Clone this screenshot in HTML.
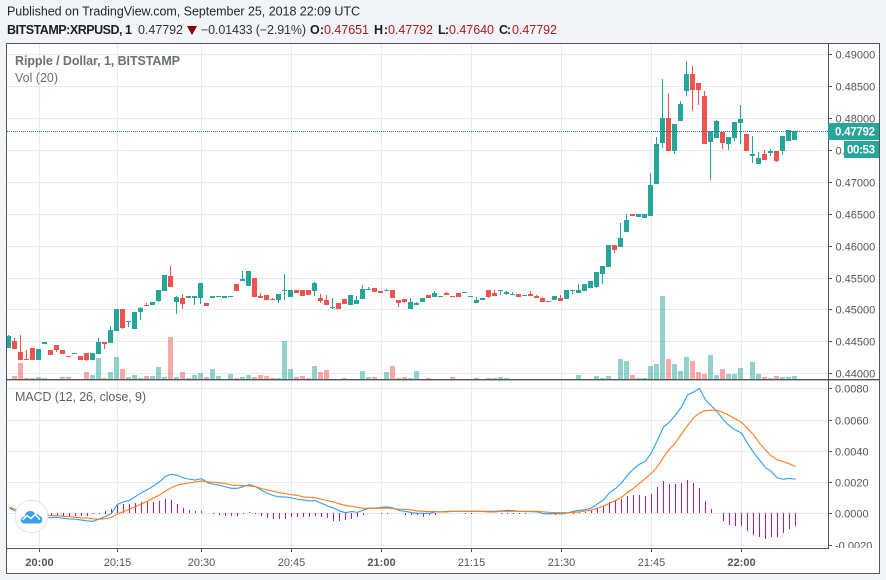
<!DOCTYPE html>
<html lang="en">
<head>
<meta charset="utf-8">
<title>XRPUSD chart</title>
<style>
html,body{margin:0;padding:0;background:#f1f4f8;}
svg{display:block;font-family:"Liberation Sans",Arial,sans-serif;}
</style>
</head>
<body>
<svg id="chart" xmlns="http://www.w3.org/2000/svg" width="886" height="580" viewBox="0 0 886 580">
  <defs>
    <clipPath id="main-clip"><rect x="7" y="44" width="821" height="335"/></clipPath>
    <clipPath id="macd-clip"><rect x="7" y="381" width="821" height="167"/></clipPath>
    <clipPath id="macd-axis-clip"><rect x="829" y="381" width="50" height="167"/></clipPath>
  </defs>
  <rect x="0" y="0" width="886" height="580" fill="#f1f4f8"/>
  <rect x="6" y="43" width="873" height="530" fill="#ffffff"/>

  <text x="7" y="15.5" font-size="12.5" fill="#262626" textLength="353">Published on TradingView.com, September 25, 2018 22:09 UTC</text>
  <g font-size="12.5">
    <text x="7" y="34" font-weight="bold" fill="#1e1e1e" textLength="125">BITSTAMP:XRPUSD, 1</text>
    <text x="138" y="34" fill="#333" textLength="45">0.47792</text>
    <polygon points="187,26 197,26 192,35" fill="#8b0000"/>
    <text x="201" y="34" fill="#333" textLength="105">−0.01433 (−2.91%)</text>
    <text x="310" y="34" font-weight="bold" fill="#1e1e1e" textLength="14">O:</text>
    <text x="324" y="34" fill="#a81c1c" textLength="45">0.47651</text>
    <text x="374" y="34" font-weight="bold" fill="#1e1e1e" textLength="14">H:</text>
    <text x="388" y="34" fill="#a81c1c" textLength="45">0.47792</text>
    <text x="438" y="34" font-weight="bold" fill="#1e1e1e" textLength="11">L:</text>
    <text x="449" y="34" fill="#a81c1c" textLength="45">0.47640</text>
    <text x="499" y="34" font-weight="bold" fill="#1e1e1e" textLength="12">C:</text>
    <text x="512" y="34" fill="#a81c1c" textLength="45">0.47792</text>
  </g>

  <g id="grid"></g>
  <g id="volume" clip-path="url(#main-clip)"></g>
  <g id="candles" clip-path="url(#main-clip)"></g>
  <g id="hist" clip-path="url(#macd-clip)"></g>
  <g id="macd-lines" clip-path="url(#macd-clip)"></g>
  <g id="price-axis"></g>
  <g id="macd-axis"></g>
  <g id="time-axis"></g>

  <line id="last-line" x1="7" x2="828" y1="131.5" y2="131.5" stroke="#1b7f75" stroke-width="1" stroke-dasharray="1 1"/>

  <text x="15" y="65" font-size="12.5" font-weight="bold" fill="#6b6e76" textLength="165">Ripple / Dollar, 1, BITSTAMP</text>
  <text x="15" y="82" font-size="12.5" fill="#6b6e76" textLength="43">Vol (20)</text>
  <text x="15" y="401" font-size="12.5" fill="#5d6068" textLength="131">MACD (12, 26, close, 9)</text>

  <g fill="#555555">
    <rect x="6" y="43" width="874" height="1"/>
    <rect x="6" y="43" width="1" height="530"/>
    <rect x="879" y="43" width="1" height="531"/>
    <rect x="6" y="573" width="874" height="1"/>
    <rect x="6" y="379" width="874" height="1.4"/>
    <rect x="6" y="548" width="823" height="1"/>
    <rect x="828" y="43" width="1" height="506"/>
  </g>

  <g>
    <rect x="828" y="123" width="51" height="17" fill="#26a69a"/>
    <text x="835" y="135.5" font-size="11.5" font-weight="bold" fill="#ffffff" textLength="40">0.47792</text>
    <rect x="844" y="141" width="35" height="17" fill="#26a69a"/>
    <text x="847" y="153.5" font-size="11.5" font-weight="bold" fill="#ffffff" textLength="28">00:53</text>
  </g>

  <g>
    <circle cx="31.5" cy="516.5" r="16.3" fill="#ffffff" stroke="#e2e4e6" stroke-width="1"/>
    <path d="M24 523.5 Q20.5 523 21 519.5 Q21.5 516.5 24.5 516.5 Q25.5 511 30.5 511 Q34 511 35.5 514.5 Q37.5 513.5 39 515.5 Q42.5 516.5 42.3 520 Q42 523.5 38.5 523.5 Z" fill="#3a9ff0"/>
    <polyline points="22.5,520 27,515.5 31,518.5 35,514.5 40,519.5" fill="none" stroke="#ffffff" stroke-width="1.5"/>
  </g>
</svg>

<script>
// Price series (USD)
const opens = [.44397,.44507,.44334,.44225,.44397,.44209,.44460,.44366,.44444,.44366,
.44272,.44303,.44272,.44319,.44209,.44303,.44491,.44475,.44663,.45008,
.44804,.44695,.44961,.45071,.45071,.45134,.45290,.45525,.45118,.45181,
.45181,.45181,.45181,.45102,.45181,.45196,.45181,.45196,.45400,.45447,
.45369,.45494,.45212,.45228,.45165,.45149,.45290,.45196,.45306,.45306,
.45306,.45290,.45181,.45149,.45024,.45102,.45165,.45071,.45087,.45165,
.45306,.45337,.45290,.45290,.45306,.45149,.45165,.45008,.45071,.45118,
.45228,.45196,.45196,.45259,.45212,.45259,.45259,.45196,.45102,.45149,
.45306,.45259,.45290,.45243,.45228,.45243,.45212,.45243,.45212,.45181,
.45134,.45149,.45181,.45165,.45290,.45259,.45290,.45337,.45353,.45557,
.45667,.46011,.45980,.46214,.46496,.46449,.46434,.46465,.46967,.47609,
.48001,.47484,.47954,.48424,.48691,.48550,.48346,.47625,.47688,.47782,
.47594,.47688,.47923,.47750,.47406,.47280,.47437,.47453,.47484,.47484,
.47641,.47651];
const closes = [.44585,.44381,.44209,.44209,.44209,.44381,.44491,.44287,.44366,.44303,
.44256,.44319,.44209,.44209,.44319,.44491,.44460,.44679,.45008,.44710,
.44820,.44961,.45024,.45055,.45118,.45306,.45541,.45353,.45196,.45087,
.45212,.45212,.45416,.45055,.45212,.45212,.45212,.45212,.45290,.45478,
.45604,.45196,.45181,.45149,.45149,.45243,.45306,.45306,.45259,.45212,
.45228,.45416,.45134,.45071,.45040,.45008,.45087,.45228,.45149,.45322,
.45322,.45275,.45259,.45306,.45181,.45102,.45118,.45118,.45102,.45181,
.45181,.45259,.45212,.45228,.45196,.45196,.45275,.45212,.45149,.45181,
.45196,.45212,.45306,.45275,.45243,.45196,.45228,.45212,.45181,.45118,
.45118,.45212,.45134,.45306,.45306,.45306,.45400,.45447,.45588,.45682,
.46011,.45933,.46121,.46402,.46465,.46496,.46496,.46951,.47594,.48001,
.47484,.47907,.48221,.48691,.48440,.48440,.47594,.47797,.47954,.47609,
.47703,.47938,.47986,.47484,.47437,.47374,.47343,.47484,.47327,.47719,
.47813,.47792];
const highs = [.44601,.44554,.44601,.44366,.44397,.44381,.44491,.44366,.44444,.44366,
.44272,.44319,.44272,.44319,.44319,.44554,.44491,.44742,.45008,.45008,
.44820,.44961,.45040,.45102,.45118,.45306,.45541,.45682,.45212,.45243,
.45212,.45212,.45416,.45102,.45212,.45212,.45212,.45212,.45400,.45604,
.45604,.45494,.45259,.45228,.45181,.45243,.45557,.45306,.45306,.45306,
.45306,.45431,.45243,.45228,.45181,.45102,.45165,.45228,.45212,.45384,
.45353,.45337,.45290,.45322,.45306,.45149,.45165,.45181,.45118,.45181,
.45228,.45290,.45212,.45275,.45212,.45259,.45275,.45212,.45196,.45181,
.45306,.45306,.45306,.45290,.45275,.45243,.45228,.45290,.45228,.45196,
.45134,.45212,.45228,.45306,.45306,.45400,.45400,.45447,.45588,.45682,
.46011,.46011,.46356,.46496,.46496,.46496,.46496,.47139,.47703,.48612,
.48393,.47907,.48268,.48895,.48816,.48550,.48424,.47797,.47970,.47782,
.47703,.47938,.48205,.47750,.47719,.47468,.47500,.47515,.47484,.47719,
.47813,.47792];
const lows = [.44397,.44381,.44209,.44209,.44209,.44209,.44460,.44287,.44334,.44303,
.44256,.44303,.44209,.44193,.44209,.44303,.44381,.44475,.44663,.44695,
.44726,.44695,.44836,.45055,.45071,.45118,.45290,.45353,.44930,.45008,
.45181,.45071,.45087,.45055,.45181,.45196,.45181,.45196,.45290,.45447,
.45369,.45196,.45181,.45149,.45149,.45102,.45149,.45196,.45259,.45212,
.45228,.45212,.45102,.45071,.45008,.45008,.45087,.45071,.45087,.45165,
.45306,.45275,.45259,.45290,.45181,.45040,.45102,.45008,.45071,.45118,
.45181,.45196,.45196,.45228,.45196,.45196,.45259,.45196,.45102,.45149,
.45181,.45212,.45228,.45228,.45228,.45196,.45212,.45212,.45181,.45118,
.45118,.45149,.45134,.45165,.45243,.45259,.45290,.45337,.45337,.45400,
.45667,.45886,.45980,.46214,.46465,.46449,.46434,.46465,.46967,.47531,
.47484,.47437,.47954,.48346,.48111,.48205,.47594,.47029,.47688,.47515,
.47500,.47641,.47594,.47484,.47296,.47280,.47343,.47406,.47312,.47421,
.47641,.47651];
// Volume (arbitrary units, 3 units to a pixel)
const volumes = [0,10,49,4,4,7,4,0,0,7,
7,0,0,22,13,64,4,22,67,31,
7,13,4,10,10,37,7,127,7,22,
4,13,19,7,31,10,0,16,4,7,
13,7,13,10,4,4,115,31,7,10,
4,40,22,28,0,0,4,0,0,25,
7,7,0,22,40,4,7,4,25,0,
4,0,0,0,7,0,0,0,4,0,
4,4,7,4,0,0,0,0,0,0,
0,0,0,0,0,13,0,0,10,4,
10,0,61,55,13,4,4,40,46,250,
61,46,25,67,55,22,16,73,13,31,
16,16,34,0,52,16,7,4,10,7,
7,10];
// MACD series
const macdValues = [32e-5,15e-5,0,-11e-5,-17e-5,-21e-5,-26e-5,-28e-5,-26e-5,-32e-5,
-36e-5,-38e-5,-43e-5,-49e-5,-51e-5,-36e-5,-21e-5,0,58e-5,73e-5,
83e-5,107e-5,132e-5,151e-5,175e-5,201e-5,237e-5,250e-5,243e-5,226e-5,
218e-5,213e-5,222e-5,196e-5,186e-5,179e-5,169e-5,160e-5,160e-5,171e-5,
183e-5,171e-5,147e-5,128e-5,113e-5,105e-5,105e-5,98e-5,90e-5,85e-5,
79e-5,81e-5,64e-5,47e-5,34e-5,15e-5,4e-5,11e-5,6e-5,21e-5,
34e-5,34e-5,38e-5,41e-5,34e-5,17e-5,13e-5,4e-5,0,0,
0,9e-5,9e-5,13e-5,13e-5,13e-5,13e-5,13e-5,13e-5,13e-5,
13e-5,13e-5,15e-5,19e-5,17e-5,13e-5,11e-5,11e-5,9e-5,-2e-5,
-4e-5,-2e-5,-4e-5,2e-5,13e-5,19e-5,23e-5,34e-5,60e-5,85e-5,
132e-5,158e-5,194e-5,245e-5,284e-5,314e-5,333e-5,388e-5,469e-5,552e-5,
584e-5,629e-5,680e-5,757e-5,776e-5,800e-5,725e-5,687e-5,648e-5,597e-5,
559e-5,533e-5,514e-5,448e-5,390e-5,341e-5,292e-5,267e-5,226e-5,218e-5,
224e-5,218e-5];
const signalValues = [38e-5,26e-5,15e-5,4e-5,-4e-5,-9e-5,-11e-5,-15e-5,-15e-5,-19e-5,
-21e-5,-26e-5,-30e-5,-30e-5,-36e-5,-38e-5,-34e-5,-26e-5,-4e-5,11e-5,
26e-5,43e-5,60e-5,77e-5,98e-5,117e-5,143e-5,164e-5,181e-5,188e-5,
194e-5,201e-5,207e-5,201e-5,198e-5,196e-5,190e-5,181e-5,179e-5,177e-5,
175e-5,171e-5,158e-5,149e-5,141e-5,132e-5,126e-5,119e-5,115e-5,105e-5,
102e-5,100e-5,90e-5,81e-5,73e-5,60e-5,51e-5,45e-5,38e-5,32e-5,
32e-5,32e-5,32e-5,34e-5,30e-5,26e-5,26e-5,21e-5,15e-5,13e-5,
11e-5,11e-5,9e-5,9e-5,13e-5,13e-5,13e-5,13e-5,13e-5,11e-5,
9e-5,9e-5,13e-5,13e-5,13e-5,13e-5,13e-5,13e-5,13e-5,9e-5,
6e-5,4e-5,4e-5,4e-5,6e-5,9e-5,15e-5,21e-5,32e-5,47e-5,
64e-5,81e-5,102e-5,134e-5,160e-5,192e-5,224e-5,256e-5,299e-5,358e-5,
410e-5,452e-5,508e-5,561e-5,612e-5,642e-5,657e-5,661e-5,659e-5,644e-5,
625e-5,604e-5,582e-5,544e-5,503e-5,448e-5,405e-5,367e-5,341e-5,331e-5,
316e-5,299e-5];
const histValues = [0,-13e-5,-6e-5,-6e-5,-11e-5,-13e-5,-15e-5,-17e-5,-13e-5,-17e-5,
-19e-5,-17e-5,-19e-5,-21e-5,-6e-5,4e-5,17e-5,30e-5,60e-5,60e-5,
60e-5,66e-5,73e-5,73e-5,73e-5,79e-5,92e-5,85e-5,60e-5,34e-5,
21e-5,15e-5,15e-5,0,-6e-5,-11e-5,-21e-5,-21e-5,-21e-5,-6e-5,
9e-5,-9e-5,-21e-5,-34e-5,-41e-5,-41e-5,-36e-5,-28e-5,-28e-5,-28e-5,
-28e-5,-21e-5,-28e-5,-34e-5,-49e-5,-49e-5,-43e-5,-36e-5,-28e-5,-15e-5,
0,0,-6e-5,-6e-5,0,0,-11e-5,-15e-5,-15e-5,-23e-5,
-15e-5,-11e-5,0,0,0,0,-6e-5,-4e-5,0,0,
0,0,-4e-5,-6e-5,-6e-5,-6e-5,-6e-5,0,0,-6e-5,
-6e-5,-11e-5,0,0,-6e-5,9e-5,9e-5,21e-5,34e-5,47e-5,
73e-5,85e-5,92e-5,111e-5,117e-5,117e-5,111e-5,124e-5,169e-5,207e-5,
188e-5,188e-5,194e-5,213e-5,194e-5,162e-5,79e-5,28e-5,0,-49e-5,
-75e-5,-81e-5,-81e-5,-113e-5,-139e-5,-151e-5,-164e-5,-151e-5,-151e-5,-126e-5,
-100e-5,-81e-5];
// Axis ticks
const priceTickValues = [0.49,0.485,0.48,0.475,0.47,0.465,0.46,0.455,0.45,0.445,0.44];
const priceTickLabels = ["0.49000","0.48500","0.48000","0.47500","0.47000","0.46500","0.46000","0.45500","0.45000","0.44500","0.44000"];
const macdTickValues = [0.008,0.006,0.004,0.002,0,-0.002];
const macdTickLabels = ["0.0080","0.0060","0.0040","0.0020","0.0000","-0.0020"];
const timeTickBars = [5,18,32,47,62,77,92,107,122];
const timeTickLabels = ["20:00","20:15","20:30","20:45","21:00","21:15","21:30","21:45","22:00"];
const timeTickBold = [true,false,false,false,true,false,false,false,true];

const NS = 'http://www.w3.org/2000/svg';
const UP = '#26a69a', DOWN = '#ef5350', GRID = '#e4ebf1';
function xBar(i){ return 8 + 6 * i; }
function yPrice(p){ return 54.3 + (0.49 - p) * 6380; }
function yVolume(v){ return 379 - v / 3; }
function yMacd(m){ return 513.3 - m * 15625; }
function make(parent, tag, attrs){
  const el = document.createElementNS(NS, tag);
  for (const k in attrs) el.setAttribute(k, attrs[k]);
  parent.appendChild(el);
  return el;
}
const gGrid = document.getElementById('grid');
const gVol = document.getElementById('volume');
const gCandles = document.getElementById('candles');
const gHist = document.getElementById('hist');
const gLines = document.getElementById('macd-lines');
const gPrice = document.getElementById('price-axis');
const gMacd = document.getElementById('macd-axis');
const gTime = document.getElementById('time-axis');

// Horizontal grid and value axes
priceTickValues.forEach(function(v, k){
  const y = Math.round(yPrice(v)) + 0.5;
  const g = make(gGrid, 'line', {x1:7, x2:828, y1:y, y2:y, stroke:GRID, 'stroke-width':1});
  
  
  const t = make(gPrice, 'line', {x1:829, x2:832, y1:y, y2:y, stroke:'#555', 'stroke-width':1});
  
  
  const l = make(gPrice, 'text', {x:835.5, y:y + 4, 'font-size':11, fill:'#555'});
  
  
  l.textContent = priceTickLabels[k];
});
macdTickValues.forEach(function(v, k){
  const y = Math.round(yMacd(v)) + 0.5;
  const g = make(gGrid, 'line', {x1:7, x2:828, y1:y, y2:y, stroke:GRID, 'stroke-width':1});
  
  
  const t = make(gMacd, 'line', {x1:829, x2:832, y1:y, y2:y, stroke:'#555', 'stroke-width':1});
  
  
  const l = make(gMacd, 'text', {x:835, y:y + 4, 'font-size':11, fill:'#555', 'clip-path':'url(#macd-axis-clip)'});
  
  
  l.textContent = macdTickLabels[k];
});
// Vertical grid and time axis
timeTickBars.forEach(function(b, k){
  const x = xBar(b) + 1.5;
  const g1 = make(gGrid, 'line', {x1:x, x2:x, y1:44, y2:379, stroke:GRID, 'stroke-width':1});
  
  
  const g2 = make(gGrid, 'line', {x1:x, x2:x, y1:381, y2:548, stroke:GRID, 'stroke-width':1});
  
  
  const t = make(gTime, 'line', {x1:x, x2:x, y1:549, y2:552, stroke:'#555', 'stroke-width':1});
  
  
  const l = make(gTime, 'text', {x:x, y:566, 'font-size':11, 'text-anchor':'middle', fill:'#555', 'font-weight':timeTickBold[k] ? 'bold' : 'normal'});
  
  
  l.textContent = timeTickLabels[k];
});
// Volume bars
volumes.forEach(function(v, i){
  if (!v) return;
  const top = Math.round(yVolume(v));
  const r = make(gVol, 'rect', {x:xBar(i) - 2, y:top, width:5, height:379 - top, fill:closes[i] >= opens[i] ? UP : DOWN, 'fill-opacity':0.5});
  
  
});
// Candles
opens.forEach(function(o, i){
  const c = closes[i];
  const color = c >= o ? UP : DOWN;
  const top = Math.round(yPrice(Math.max(o, c)));
  const bot = Math.round(yPrice(Math.min(o, c)));
  const wt = Math.round(yPrice(highs[i]));
  const wb = Math.round(yPrice(lows[i]));
  const wick = make(gCandles, 'rect', {x:xBar(i), y:wt, width:1, height:Math.max(wb - wt, 1), fill:color});
  
  
  const body = make(gCandles, 'rect', {x:xBar(i) - 2, y:top, width:5, height:Math.max(bot - top, 1), fill:color});
  
  
});
// MACD histogram
histValues.forEach(function(v, i){
  if (!v) return;
  const y0 = yMacd(0), y1 = yMacd(v);
  const r = make(gHist, 'rect', {x:xBar(i) + 1, y:Math.round(Math.min(y0, y1)), width:1, height:Math.max(Math.round(Math.abs(y1 - y0)), 1), fill:'#e0125f'});
  
  
});
// MACD + signal lines
function linePoints(values){
  return values.map(function(v, i){ return (xBar(i) + 1.5) + ',' + yMacd(v).toFixed(2); }).join(' ');
}
const macdLine = make(gLines, 'polyline', {points:linePoints(macdValues), fill:'none', stroke:'#2b9ff3', 'stroke-width':1.1, 'stroke-linejoin':'round'});


const signalLine = make(gLines, 'polyline', {points:linePoints(signalValues), fill:'none', stroke:'#ff7a1a', 'stroke-width':1.1, 'stroke-linejoin':'round'});


</script>
</body>
</html>
